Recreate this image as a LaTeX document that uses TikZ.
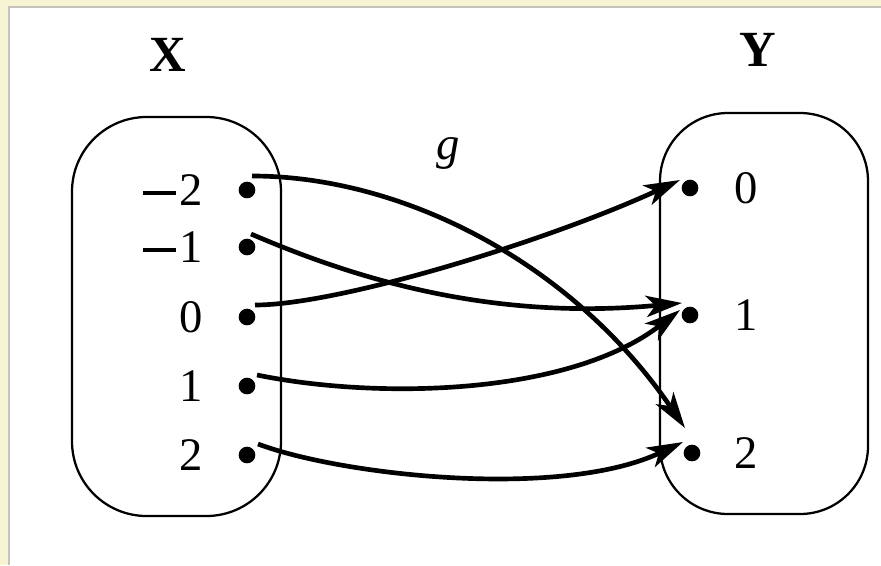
\documentclass[tikz,border=0pt]{standalone}
\usepackage{fontspec}
\setmainfont{Liberation Serif}
\usetikzlibrary{arrows.meta,calc}
\definecolor{cream}{HTML}{F6F4D2}
\definecolor{frameline}{HTML}{C4C4BC}
\newcommand{\negsign}{\makebox[0.78em][l]{\rule[0.23em]{0.7em}{0.07em}}}
\begin{document}
\begin{tikzpicture}[x=0.75pt,y=-0.75pt,
  blobL/.style={draw=black,line width=1.7pt,rounded corners=56pt},
  blobR/.style={draw=black,line width=1.7pt,rounded corners=51pt},
  dot/.style={circle,fill=black,inner sep=0pt,minimum size=12.5pt},
  elt/.style={font=\fontsize{35}{35}\selectfont,inner sep=0pt},
  setname/.style={font=\fontsize{38}{38}\selectfont\bfseries,inner sep=0pt},
  map/.style={line width=3.5pt,-{Stealth[length=27pt,width=16pt,inset=7pt]}}
]
\useasboundingbox (0,0) rectangle (881,565);
\fill[cream] (0,0) rectangle (881,565);
\fill[white] (9,7) rectangle (881,565);
\draw[frameline,line width=1.5pt] (9,565) -- (9,7) -- (881,7);

% sets
\draw[blobL] (72,117) rectangle (281,516);
\draw[blobR] (660,113) rectangle (868,514);
\node[setname] (X) at (168,55) {X};
\node[setname] (Y) at (758,50) {Y};
\node[elt,font=\fontsize{35}{35}\selectfont\itshape] (g) at (448,153) {g};

% elements of X
\node[dot] (lm2) at (247,190) {};
\node[dot] (lm1) at (247,247) {};
\node[dot] (l0) at (247,317) {};
\node[dot] (l1) at (247,386) {};
\node[dot] (l2) at (247,455) {};
\node[elt,anchor=east] (tlm2) at (203,190) {\negsign2};
\node[elt,anchor=east] (tlm1) at (203,247) {\negsign1};
\node[elt,anchor=east] (tl0) at (203,317) {0};
\node[elt,anchor=east] (tl1) at (203,386) {1};
\node[elt,anchor=east] (tl2) at (203,455) {2};

% elements of Y
\node[dot] (r0) at (690,188) {};
\node[dot] (r1) at (690,315) {};
\node[dot] (r2) at (692,453) {};
\node[elt,anchor=west] (tr0) at (734,188) {0};
\node[elt,anchor=west] (tr1) at (734,315) {1};
\node[elt,anchor=west] (tr2) at (734,453) {2};

% start and end points of the arrows
\coordinate (s1) at ($(lm2)+(5,-14)$);
\coordinate (s2) at ($(lm1)+(4,-13)$);
\coordinate (s3) at ($(l0)+(8,-12)$);
\coordinate (s4) at ($(l1)+(10,-11)$);
\coordinate (s5) at ($(l2)+(11,-11)$);
\coordinate (t1) at ($(r2)+(-7,-25)$);
\coordinate (t2) at ($(r1)+(-8,-12)$);
\coordinate (t3) at ($(r0)+(-10,-8)$);
\coordinate (t4) at ($(r1)+(-10,-5)$);
\coordinate (t5) at ($(r2)+(-9,-11)$);

% the map g
\draw[map] (s1) .. controls +(148,0) and +(-115,-168) .. (t1);
\draw[map] (s2) .. controls +(89,38) and +(-202,19) .. (t2);
\draw[map] (s3) .. controls +(85,0) and +(-130,60) .. (t3);
\draw[map] (s4) .. controls +(123,25) and +(-110,85) .. (t4);
\draw[map] (s5) .. controls +(82,31) and +(-123,58) .. (t5);
\end{tikzpicture}
\end{document}
